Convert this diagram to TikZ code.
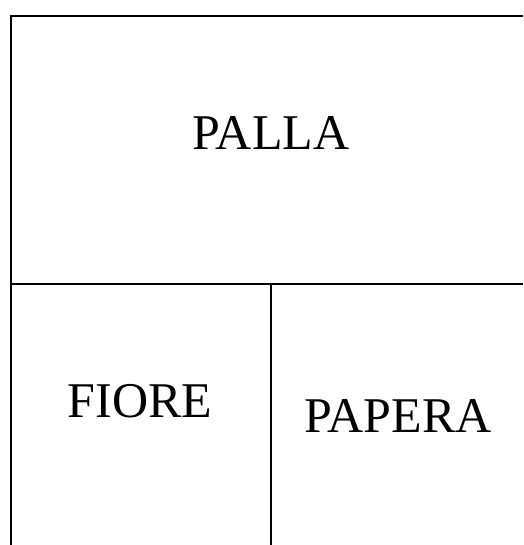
\documentclass[tikz,border=0pt]{standalone}
\usepackage{fontspec}
\setmainfont{Liberation Serif}
\usetikzlibrary{positioning}

\tikzset{
  rigo/.style={line width=2pt},
  parola/.style={font=\fontsize{50}{60}\selectfont, inner sep=0pt}
}

\begin{document}
\begin{tikzpicture}[x=1pt,y=1pt]
    \useasboundingbox (0,0) rectangle (523,545);

    % Griglia
    \draw[rigo] (11,0) -- (11,529) -- (523,529);
    \draw[rigo] (11,261) -- (523,261);
    \draw[rigo] (271,261) -- (271,0);

    % Parole
    \node[parola] (palla) at (271,412) {PALLA};
    \node[parola] (fiore) at (140,144) {FIORE};
    \node[parola] (papera) at (398,129) {PAPERA};
\end{tikzpicture}
\end{document}
